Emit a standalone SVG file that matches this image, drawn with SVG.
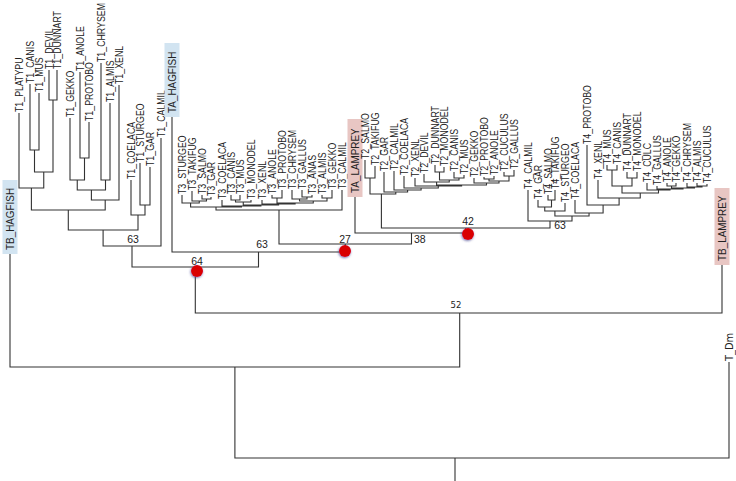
<svg xmlns="http://www.w3.org/2000/svg" width="736" height="481" viewBox="0 0 736 481">
<defs>
<style>
.lab{font-family:"Liberation Sans",Arial,sans-serif;font-size:11px;fill:#222}
.bs{font-family:"Liberation Sans",Arial,sans-serif;font-size:10.5px;fill:#222;text-anchor:middle}
.dj{font-family:"DejaVu Sans Condensed","DejaVu Sans",sans-serif;font-size:9.5px;fill:#222}
.br{fill:none;stroke:#333;stroke-width:1.1}
.hb{fill:#d2e4f1}
.hp{fill:#e8c6c3}
.dot{fill:#d90000;filter:url(#sh)}
</style>
<filter id="sh" x="-50%" y="-50%" width="200%" height="200%">
<feDropShadow dx="-0.5" dy="1" stdDeviation="1" flood-color="#3a3a8a" flood-opacity="0.7"/>
</filter>
</defs>
<rect width="736" height="481" fill="#fff"/>
<g id="connectors" class="br">
<path d="M49 70V100H57V70M30 84V150H39V93M34.5 150V172H53V100M19 113V188H43.75V172M80 72V158H89V122M70 118V180H84.5V158M101 63V180H110V103M77.25 180V190H105.5V180M91.4 190V200H119V85M31.4 188V210H105.2V200M140 163V205H150V167M131 180V215H145V205M68.3 210V230H138V215M103.1 230V246H161V138M172 117V252H345.25V244M132 246V267H258.5V252M195.3 267V313H722V265M10 254V367H459.7V313M234.9 367V458H729V362M455 458V481"/>
<path d="M202 195V199H211V197M192 191V201H206.5V199M182 195V203H199.25V201M231 195V200H240V195M235.5 200V202H251V200M302 190V197H312V195M292 190V199H307V197M322 195V198H332V190M299.5 199V201H327V198M272 195V198H282V190M277 198V203H313.25V201M262 200V204H295.1V203M243.25 202V205H278.6V204M222 200V206H260.9V205M190.6 203V207H241.5V206M216 207V210H342V190M279 210V244H411.5V233M355 197V233H465.75V228M381.4 194V228H550V221"/>
<path d="M365 160V178H375V166M435 165V172H444V167M454 172V178H464V175M439.5 172V180H459V178M424 174V182H449.25V180M484 177V179H494V176M504 172V176H514V170M489 179V181H509V176M474 178V183H499V181M436.6 182V185H486.5V183M415 178V186H461.6V185M404 176V188H438.3V186M394 171V190H421.1V188M384 172V192H407.6V190M370 178V194H395.8V192"/>
<path d="M548 195V200H555V190M538 200V207H551.5V200M544.75 207V211H565V203M607 165V170H617V165M627 172V178H637V172M612 170V186H632V178M697 183V186H707V184M687 183V187H702V186M667 183V186H676V183M671.5 186V188H694.5V187M657 186V189H683V188M647 183V190H670V189M622 186V193H658.5V190M598 180V198H640.25V193M587 145V205H619.1V198M575 200V213H603.1V205M554.9 211V216H589.05V213M528 190V221H572V216"/>
</g>
<g id="support">
<text class="bs" x="133" y="243">63</text>
<text class="bs" x="262" y="248">63</text>
<text class="bs" x="197" y="265">64</text>
<text class="bs" x="345" y="243">27</text>
<text class="bs" x="414" y="243" style="text-anchor:start">38</text>
<text class="bs" x="468" y="225">42</text>
<text class="bs" x="560" y="229">63</text>
<text class="dj" x="456" y="308" text-anchor="middle">52</text>
</g>
<g id="dots">
<circle class="dot" cx="197" cy="271" r="6"/>
<circle class="dot" cx="345" cy="251" r="6"/>
<circle class="dot" cx="468" cy="234" r="6"/>
</g>
<g id="T1_PLATYPU"><text class="lab" transform="translate(23,112) rotate(-90) scale(0.8,1)">T1_PLATYPU</text></g>
<g id="T1_CANIS"><text class="lab" transform="translate(34,83) rotate(-90) scale(0.8,1)">T1_CANIS</text></g>
<g id="T1_MUS"><text class="lab" transform="translate(43,92) rotate(-90) scale(0.8,1)">T1_MUS</text></g>
<g id="T1_DEVIL"><text class="lab" transform="translate(53,69) rotate(-90) scale(0.8,1)">T1_DEVIL</text></g>
<g id="T1_DUNNART"><text class="lab" transform="translate(61,69) rotate(-90) scale(0.8,1)">T1_DUNNART</text></g>
<g id="T1_GEKKO"><text class="lab" transform="translate(74,117) rotate(-90) scale(0.8,1)">T1_GEKKO</text></g>
<g id="T1_ANOLE"><text class="lab" transform="translate(84,71) rotate(-90) scale(0.8,1)">T1_ANOLE</text></g>
<g id="T1_PROTOBO"><text class="lab" transform="translate(93,121) rotate(-90) scale(0.8,1)">T1_PROTOBO</text></g>
<g id="T1_CHRYSEM"><text class="lab" transform="translate(105,62) rotate(-90) scale(0.8,1)">T1_CHRYSEM</text></g>
<g id="T1_ALMIS"><text class="lab" transform="translate(114,102) rotate(-90) scale(0.8,1)">T1_ALMIS</text></g>
<g id="T1_XENL"><text class="lab" transform="translate(123,84) rotate(-90) scale(0.8,1)">T1_XENL</text></g>
<g id="T1_COELACA"><text class="lab" transform="translate(135,179) rotate(-90) scale(0.8,1)">T1_COELACA</text></g>
<g id="T1_STURGEO"><text class="lab" transform="translate(144,162) rotate(-90) scale(0.8,1)">T1_STURGEO</text></g>
<g id="T1_GAR"><text class="lab" transform="translate(154,166) rotate(-90) scale(0.8,1)">T1_GAR</text></g>
<g id="T1_CALMIL"><text class="lab" transform="translate(165,137) rotate(-90) scale(0.8,1)">T1_CALMIL</text></g>
<g id="TA_HAGFISH"><rect class="hb" x="164.5" y="43" width="15" height="74"/><text class="lab" transform="translate(176,113) rotate(-90) scale(0.9,1)">TA_HAGFISH</text></g>
<g id="T3_STURGEO"><text class="lab" transform="translate(186,194) rotate(-90) scale(0.8,1)">T3_STURGEO</text></g>
<g id="T3_TAKIFUG"><text class="lab" transform="translate(196,190) rotate(-90) scale(0.8,1)">T3_TAKIFUG</text></g>
<g id="T3_SALMO"><text class="lab" transform="translate(206,194) rotate(-90) scale(0.8,1)">T3_SALMO</text></g>
<g id="T3_GAR"><text class="lab" transform="translate(215,196) rotate(-90) scale(0.8,1)">T3_GAR</text></g>
<g id="T3_COELACA"><text class="lab" transform="translate(226,199) rotate(-90) scale(0.8,1)">T3_COELACA</text></g>
<g id="T3_CANIS"><text class="lab" transform="translate(235,194) rotate(-90) scale(0.8,1)">T3_CANIS</text></g>
<g id="T3_MUS"><text class="lab" transform="translate(244,194) rotate(-90) scale(0.8,1)">T3_MUS</text></g>
<g id="T3_MONODEL"><text class="lab" transform="translate(255,199) rotate(-90) scale(0.8,1)">T3_MONODEL</text></g>
<g id="T3_XENL"><text class="lab" transform="translate(266,199) rotate(-90) scale(0.8,1)">T3_XENL</text></g>
<g id="T3_ANOLE"><text class="lab" transform="translate(276,194) rotate(-90) scale(0.8,1)">T3_ANOLE</text></g>
<g id="T3_PROTOBO"><text class="lab" transform="translate(286,189) rotate(-90) scale(0.8,1)">T3_PROTOBO</text></g>
<g id="T3_CHRYSEM"><text class="lab" transform="translate(296,189) rotate(-90) scale(0.8,1)">T3_CHRYSEM</text></g>
<g id="T3_GALLUS"><text class="lab" transform="translate(306,189) rotate(-90) scale(0.8,1)">T3_GALLUS</text></g>
<g id="T3_ANAS"><text class="lab" transform="translate(316,194) rotate(-90) scale(0.8,1)">T3_ANAS</text></g>
<g id="T3_ALMIS"><text class="lab" transform="translate(326,194) rotate(-90) scale(0.8,1)">T3_ALMIS</text></g>
<g id="T3_GEKKO"><text class="lab" transform="translate(336,189) rotate(-90) scale(0.8,1)">T3_GEKKO</text></g>
<g id="T3_CALMIL"><text class="lab" transform="translate(346,189) rotate(-90) scale(0.8,1)">T3_CALMIL</text></g>
<g id="TA_LAMPREY"><rect class="hp" x="347.5" y="119" width="15" height="78"/><text class="lab" transform="translate(359,193) rotate(-90) scale(0.9,1)">TA_LAMPREY</text></g>
<g id="T2_SALMO"><text class="lab" transform="translate(369,159) rotate(-90) scale(0.8,1)">T2_SALMO</text></g>
<g id="T2_TAKIFUG"><text class="lab" transform="translate(379,165) rotate(-90) scale(0.8,1)">T2_TAKIFUG</text></g>
<g id="T2_GAR"><text class="lab" transform="translate(388,171) rotate(-90) scale(0.8,1)">T2_GAR</text></g>
<g id="T2_CALMIL"><text class="lab" transform="translate(398,170) rotate(-90) scale(0.8,1)">T2_CALMIL</text></g>
<g id="T2_COELACA"><text class="lab" transform="translate(408,175) rotate(-90) scale(0.8,1)">T2_COELACA</text></g>
<g id="T2_XENL"><text class="lab" transform="translate(419,177) rotate(-90) scale(0.8,1)">T2_XENL</text></g>
<g id="T2_DEVIL"><text class="lab" transform="translate(428,173) rotate(-90) scale(0.8,1)">T2_DEVIL</text></g>
<g id="T2_DUNNART"><text class="lab" transform="translate(439,164) rotate(-90) scale(0.8,1)">T2_DUNNART</text></g>
<g id="T2_MONODEL"><text class="lab" transform="translate(448,166) rotate(-90) scale(0.8,1)">T2_MONODEL</text></g>
<g id="T2_CANIS"><text class="lab" transform="translate(458,171) rotate(-90) scale(0.8,1)">T2_CANIS</text></g>
<g id="T2_MUS"><text class="lab" transform="translate(468,174) rotate(-90) scale(0.8,1)">T2_MUS</text></g>
<g id="T2_GEKKO"><text class="lab" transform="translate(478,177) rotate(-90) scale(0.8,1)">T2_GEKKO</text></g>
<g id="T2_PROTOBO"><text class="lab" transform="translate(488,176) rotate(-90) scale(0.8,1)">T2_PROTOBO</text></g>
<g id="T2_ANOLE"><text class="lab" transform="translate(498,175) rotate(-90) scale(0.8,1)">T2_ANOLE</text></g>
<g id="T2_CUCULUS"><text class="lab" transform="translate(508,171) rotate(-90) scale(0.8,1)">T2_CUCULUS</text></g>
<g id="T2_GALLUS"><text class="lab" transform="translate(518,169) rotate(-90) scale(0.8,1)">T2_GALLUS</text></g>
<g id="T4_CALMIL"><text class="lab" transform="translate(532,189) rotate(-90) scale(0.8,1)">T4_CALMIL</text></g>
<g id="T4_GAR"><text class="lab" transform="translate(542,199) rotate(-90) scale(0.8,1)">T4_GAR</text></g>
<g id="T4_SALMO"><text class="lab" transform="translate(552,194) rotate(-90) scale(0.8,1)">T4_SALMO</text></g>
<g id="T4_TAKIFUG"><text class="lab" transform="translate(559,189) rotate(-90) scale(0.8,1)">T4_TAKIFUG</text></g>
<g id="T4_STURGEO"><text class="lab" transform="translate(569,202) rotate(-90) scale(0.8,1)">T4_STURGEO</text></g>
<g id="T4_COELACA"><text class="lab" transform="translate(579,199) rotate(-90) scale(0.8,1)">T4_COELACA</text></g>
<g id="T4_PROTOBO"><text class="lab" transform="translate(591,144) rotate(-90) scale(0.8,1)">T4_PROTOBO</text></g>
<g id="T4_XENL"><text class="lab" transform="translate(602,179) rotate(-90) scale(0.8,1)">T4_XENL</text></g>
<g id="T4_MUS"><text class="lab" transform="translate(611,164) rotate(-90) scale(0.8,1)">T4_MUS</text></g>
<g id="T4_CANIS"><text class="lab" transform="translate(621,164) rotate(-90) scale(0.8,1)">T4_CANIS</text></g>
<g id="T4_DUNNART"><text class="lab" transform="translate(631,171) rotate(-90) scale(0.8,1)">T4_DUNNART</text></g>
<g id="T4_MONODEL"><text class="lab" transform="translate(641,171) rotate(-90) scale(0.8,1)">T4_MONODEL</text></g>
<g id="T4_CULC"><text class="lab" transform="translate(651,182) rotate(-90) scale(0.8,1)">T4_CULC</text></g>
<g id="T4_GALLUS"><text class="lab" transform="translate(661,185) rotate(-90) scale(0.8,1)">T4_GALLUS</text></g>
<g id="T4_ANOLE"><text class="lab" transform="translate(671,182) rotate(-90) scale(0.8,1)">T4_ANOLE</text></g>
<g id="T4_GEKKO"><text class="lab" transform="translate(680,182) rotate(-90) scale(0.8,1)">T4_GEKKO</text></g>
<g id="T4_CHRYSEM"><text class="lab" transform="translate(691,182) rotate(-90) scale(0.8,1)">T4_CHRYSEM</text></g>
<g id="T4_ALMIS"><text class="lab" transform="translate(701,182) rotate(-90) scale(0.8,1)">T4_ALMIS</text></g>
<g id="T4_CUCULUS"><text class="lab" transform="translate(711,183) rotate(-90) scale(0.8,1)">T4_CUCULUS</text></g>
<g id="TB_LAMPREY"><rect class="hp" x="714.5" y="188" width="15" height="77"/><text class="lab" transform="translate(726,261) rotate(-90) scale(0.9,1)">TB_LAMPREY</text></g>
<g id="TB_HAGFISH"><rect class="hb" x="2.5" y="180" width="15" height="74"/><text class="lab" transform="translate(14,250) rotate(-90) scale(0.9,1)">TB_HAGFISH</text></g>
<g id="T_Dm"><text class="dj" transform="translate(733,361) rotate(-90)" style="font-size:11px">T_Dm</text></g>
</svg>
